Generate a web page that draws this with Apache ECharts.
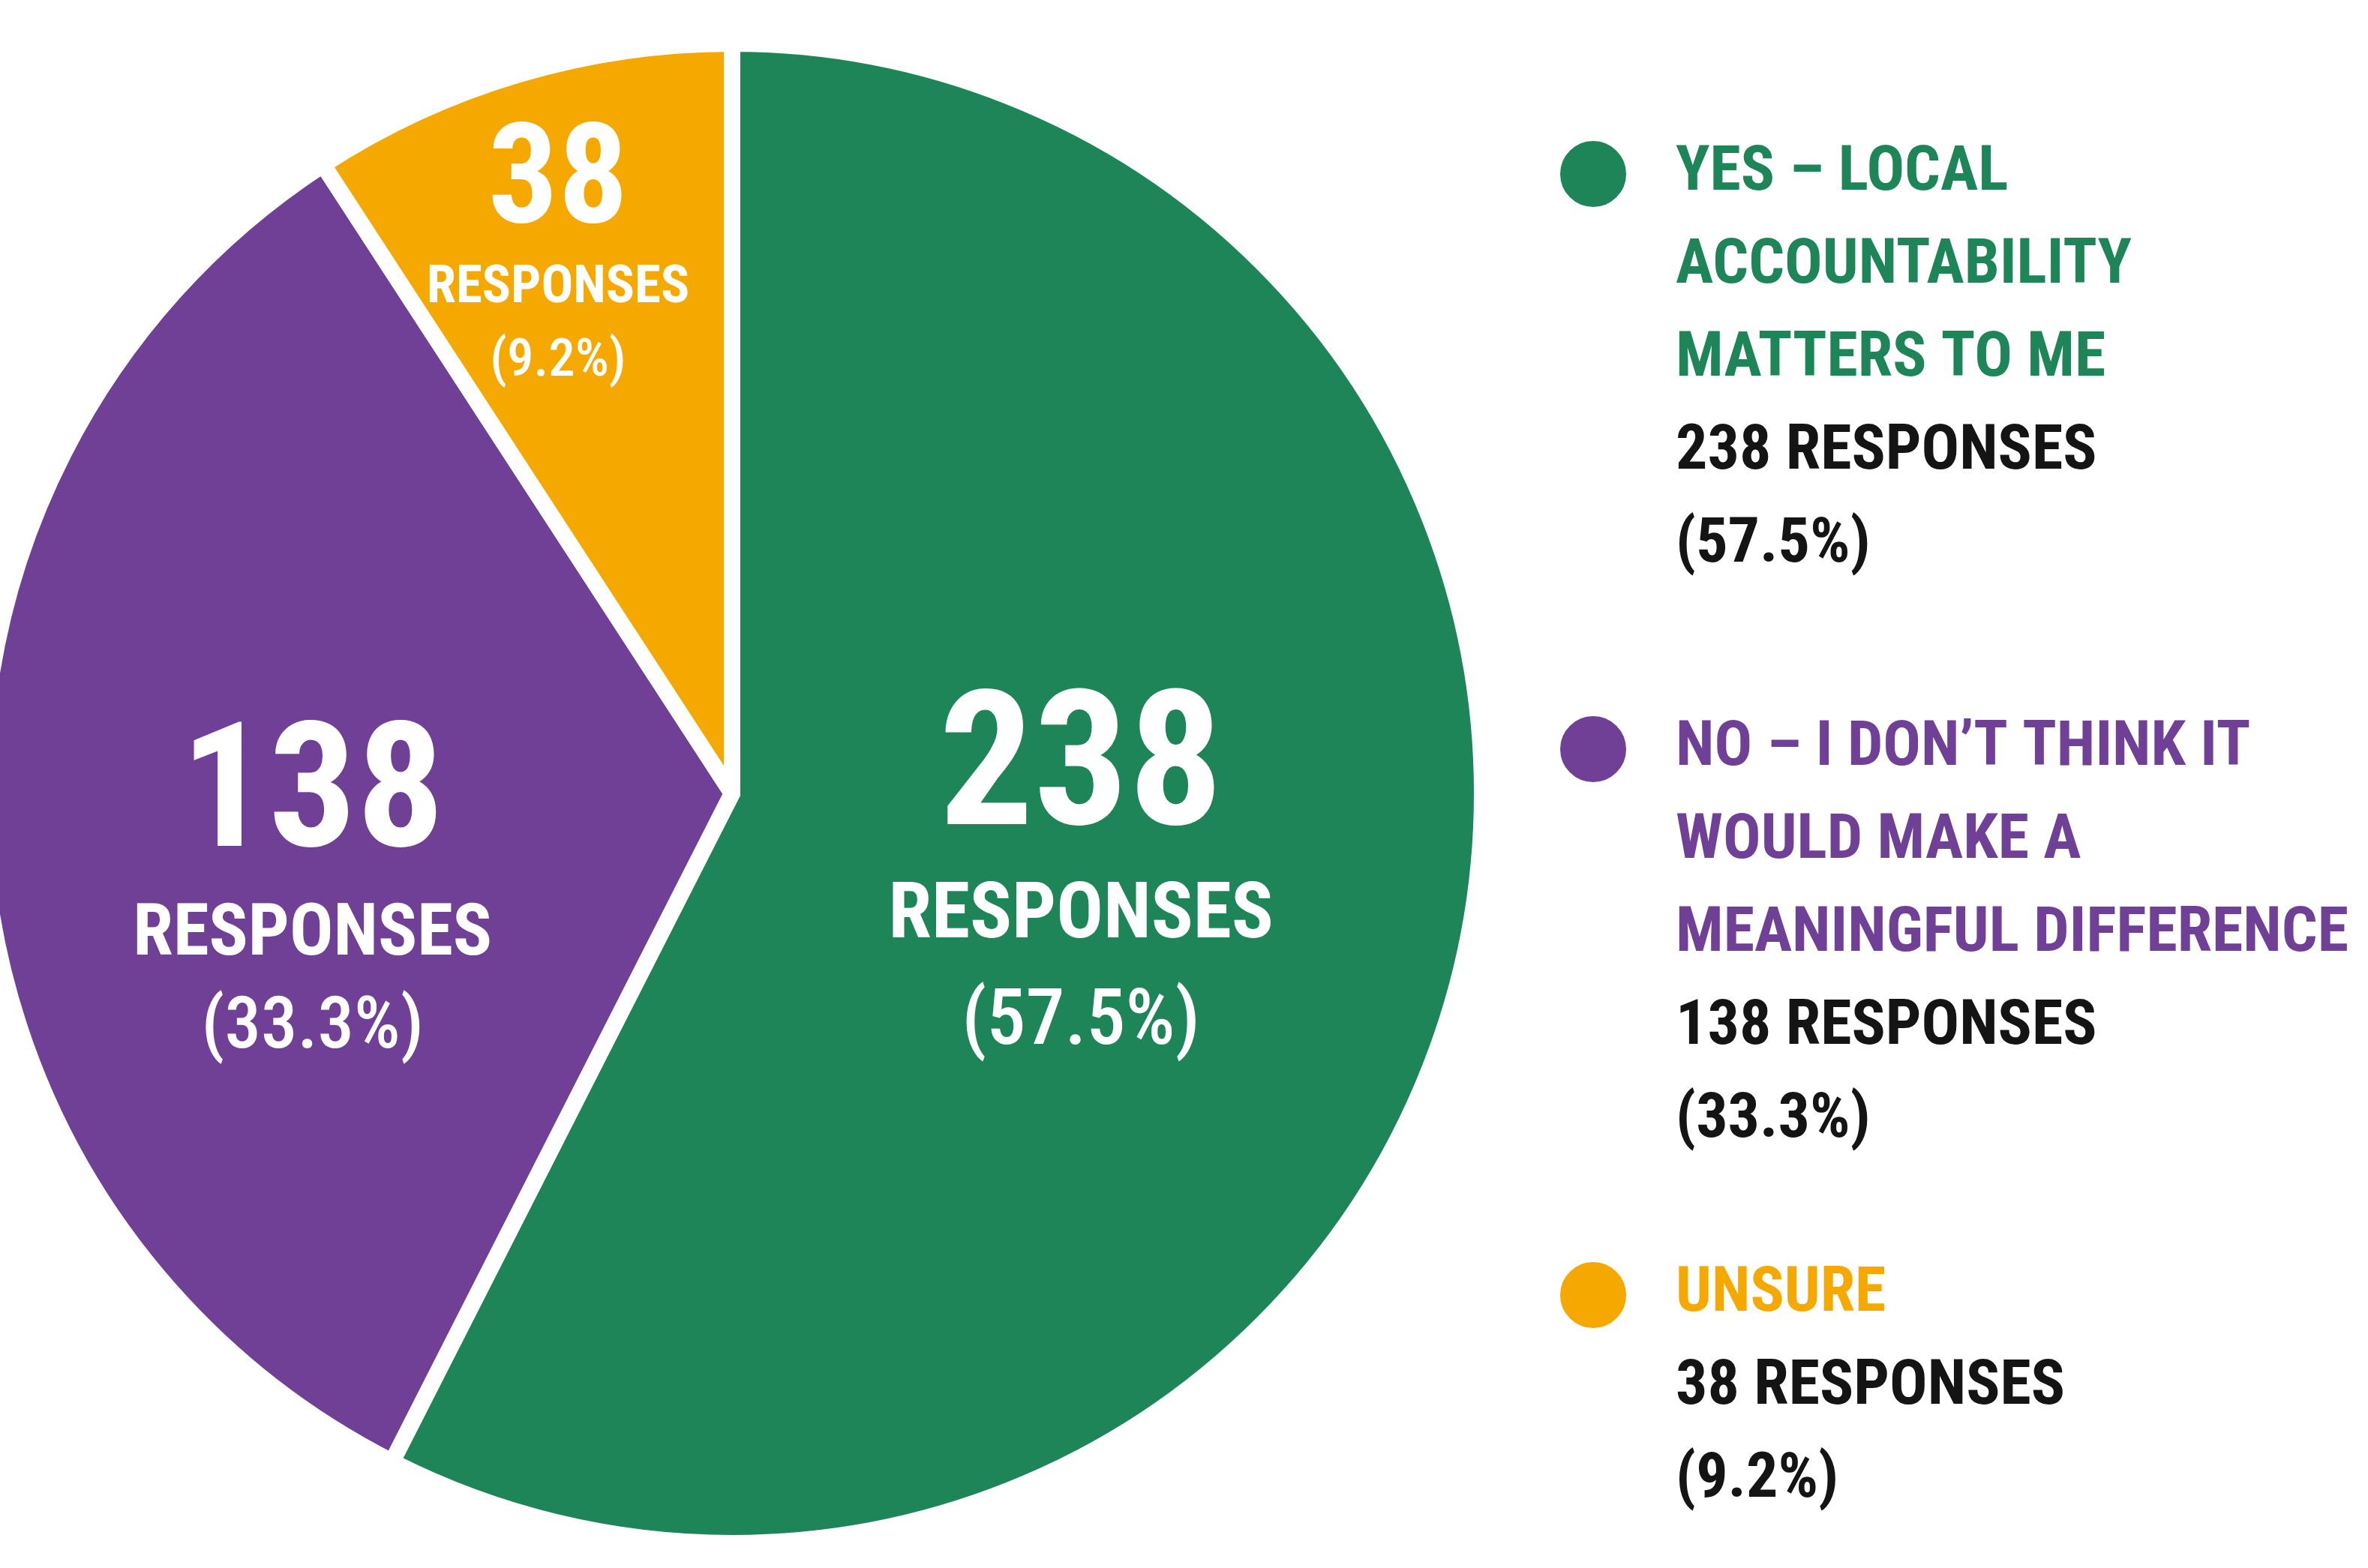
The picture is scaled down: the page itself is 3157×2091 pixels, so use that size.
<!DOCTYPE html>
<html>
<head>
<meta charset="utf-8" />
<title>Local accountability</title>
<script src="https://cdn.jsdelivr.net/npm/echarts@6/dist/echarts.min.js"></script>
<style>
  * { margin: 0; padding: 0; }
  html, body { width: 100%; height: 100%; background: #fff; overflow: hidden; }
  #main { width: 3157px; height: 2091px; }
</style>
</head>
<body>
<div id="main"></div>
<script>
// data
var categories = [
  'YES – LOCAL ACCOUNTABILITY MATTERS TO ME',
  'NO – I DON’T THINK IT WOULD MAKE A MEANINGFUL DIFFERENCE',
  'UNSURE'
];
var legendLines = [
  ['YES – LOCAL', 'ACCOUNTABILITY', 'MATTERS TO ME'],
  ['NO – I DON’T THINK IT', 'WOULD MAKE A', 'MEANINGFUL DIFFERENCE'],
  ['UNSURE']
];
var responses = [238, 138, 38];

// styles
var colors = ['#1e8558', '#6f4096', '#f5a800'];
var FONT = 'Roboto, sans-serif';
var total = responses.reduce(function (a, b) { return a + b; }, 0);

// fontStyle 'condensed' ends up in the canvas font string -> Roboto condensed width
function txt(color, size, weight, lh) {
  return { color: color, fontFamily: FONT, fontStyle: 'condensed', fontWeight: weight, fontSize: size, lineHeight: lh };
}
function sliceRich(num, small, lh1, lh2) {
  return {
    n: txt('#fff', num, 'bold', lh1),
    r: txt('#fff', small, 'bold', lh2),
    p: txt('#fff', small, 500, lh2)
  };
}
var sliceLabels = [
  { offset: [-24, 3], rich: sliceRich(250, 104, 234, 142) },
  { offset: [-57, 109], rich: sliceRich(232, 97, 234, 124) },
  { offset: [-89, -228], rich: sliceRich(185, 71, 172, 98) }
];
var legendTops = [181, 948, 1676];

var myChart = echarts.init(document.getElementById('main'));
myChart.setOption({
  backgroundColor: '#fff',
  animation: false,
  legend: categories.map(function (name, i) {
    return {
      data: [name],
      left: 2073,
      top: legendTops[i],
      icon: 'circle',
      itemWidth: 210,
      itemHeight: 90,
      selectedMode: false,
      formatter: function () {
        var pct = (responses[i] / total * 100).toFixed(1);
        var head = legendLines[i].map(function (l) { return '{t|' + l + '}'; }).join('\n');
        return head + '\n{r|' + responses[i] + ' RESPONSES}\n{r|(' + pct + '%)}';
      },
      textStyle: {
        height: 124,
        rich: {
          t: txt(colors[i], 84, 'bold', 124),
          r: txt('#141414', 84, 'bold', 124)
        }
      }
    };
  }),
  series: [{
    type: 'pie',
    center: [976, 1058],
    radius: 1000,
    startAngle: 90,
    clockwise: true,
    percentPrecision: 1,
    itemStyle: { borderColor: '#fff', borderWidth: 22 },
    label: {
      position: 'inside',
      formatter: '{n|{c}}\n{r|RESPONSES}\n{p|({d}%)}'
    },
    labelLine: { show: false },
    emphasis: { disabled: true },
    data: categories.map(function (name, i) {
      return {
        name: name,
        value: responses[i],
        itemStyle: { color: colors[i] },
        label: sliceLabels[i]
      };
    })
  }]
});
</script>
</body>
</html>
